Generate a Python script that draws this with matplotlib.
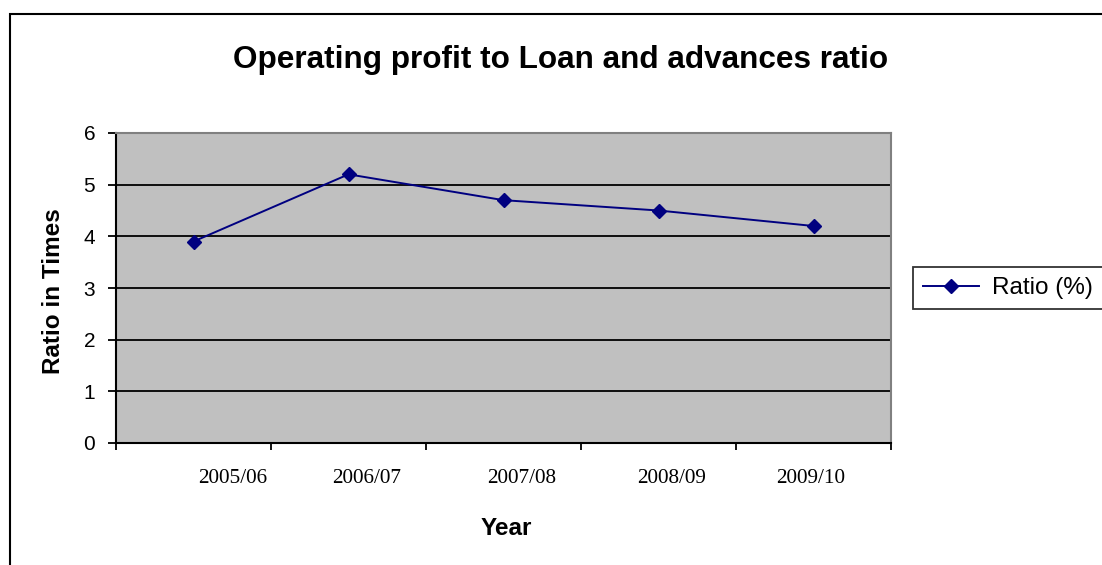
import matplotlib
matplotlib.use("Agg")
import matplotlib.pyplot as plt
import matplotlib.patches as patches
from matplotlib.transforms import ScaledTranslation
import numpy as np

years = ["2005/06", "2006/07", "2007/08", "2008/09", "2009/10"]
ratio = [3.9, 5.2, 4.7, 4.5, 4.2]
yticks = [0, 1, 2, 3, 4, 5, 6]
# little sideways shift of each year label, in pixels (as in the picture)
label_shift = [39, 18, 18, 13, -3]

W, H = 1102, 565
fig = plt.figure(figsize=(W / 100, H / 100), dpi=100)
ax = fig.add_axes([116 / W, 1 - 443 / H, 775 / W, 310 / H])

ax.set_facecolor("#C0C0C0")
x = np.arange(len(years))
ax.plot(x, ratio, color="#000080", lw=1.4, marker="D", markersize=7.5,
        markerfacecolor="#000080", markeredgecolor="#000080", label="Ratio (%)", zorder=3)

ax.set_xlim(-0.5, len(years) - 0.5)
ax.set_ylim(0, 6)
ax.set_yticks(yticks)
ax.set_yticklabels([str(v) for v in yticks], fontsize=15, family="Liberation Sans")
ax.grid(axis="y", color="black", lw=1.3)
ax.set_axisbelow(True)

# boundaries get the tick marks, centres get the labels
ax.set_xticks(np.arange(len(years) + 1) - 0.5)
ax.set_xticklabels([])
ax.set_xticks(x, minor=True)
ax.set_xticklabels(years, minor=True, fontsize=15.3, family="Liberation Serif")
ax.tick_params(axis="x", which="minor", length=0, pad=19)
ax.tick_params(axis="x", which="major", length=5, width=1.3, direction="out")
ax.tick_params(axis="y", length=6, width=1.3, pad=9)
for lab, dx in zip(ax.get_xticklabels(minor=True), label_shift):
    lab.set_transform(lab.get_transform() + ScaledTranslation(dx / 100, 0, fig.dpi_scale_trans))

for s in ["left", "bottom"]:
    ax.spines[s].set_color("black")
    ax.spines[s].set_linewidth(1.5)
for s in ["top", "right"]:
    ax.spines[s].set_color("#808080")
    ax.spines[s].set_linewidth(1.5)

leg = ax.legend(loc="center left", bbox_to_anchor=(1 + 22 / 775, 0.5), frameon=True,
                fancybox=False, edgecolor="black", prop={"family": "Liberation Sans", "size": 17.5},
                handlelength=2.3, handletextpad=0.55, borderpad=0.42, borderaxespad=0)
leg.get_frame().set_linewidth(1.3)

fig.text(561 / W, 1 - 68 / H, "Operating profit to Loan and advances ratio", ha="center",
         va="baseline", fontsize=22.7, fontweight="bold", family="Liberation Sans")
fig.text(54 / W, 1 - 291 / H, "Ratio in Times", rotation=90, ha="center", va="center",
         fontsize=17.5, fontweight="bold", family="Liberation Sans")
fig.text(506 / W, 1 - 535 / H, "Year", ha="center", va="baseline",
         fontsize=17.5, fontweight="bold", family="Liberation Sans")

# outer chart border (runs off the right and bottom edges)
fig.patches.append(patches.Rectangle((10 / W, -0.1), 1.2, 1.1 - 14 / H, transform=fig.transFigure,
                                     fill=False, edgecolor="black", lw=1.5))

fig.savefig("out.png", dpi=100, facecolor="white")
